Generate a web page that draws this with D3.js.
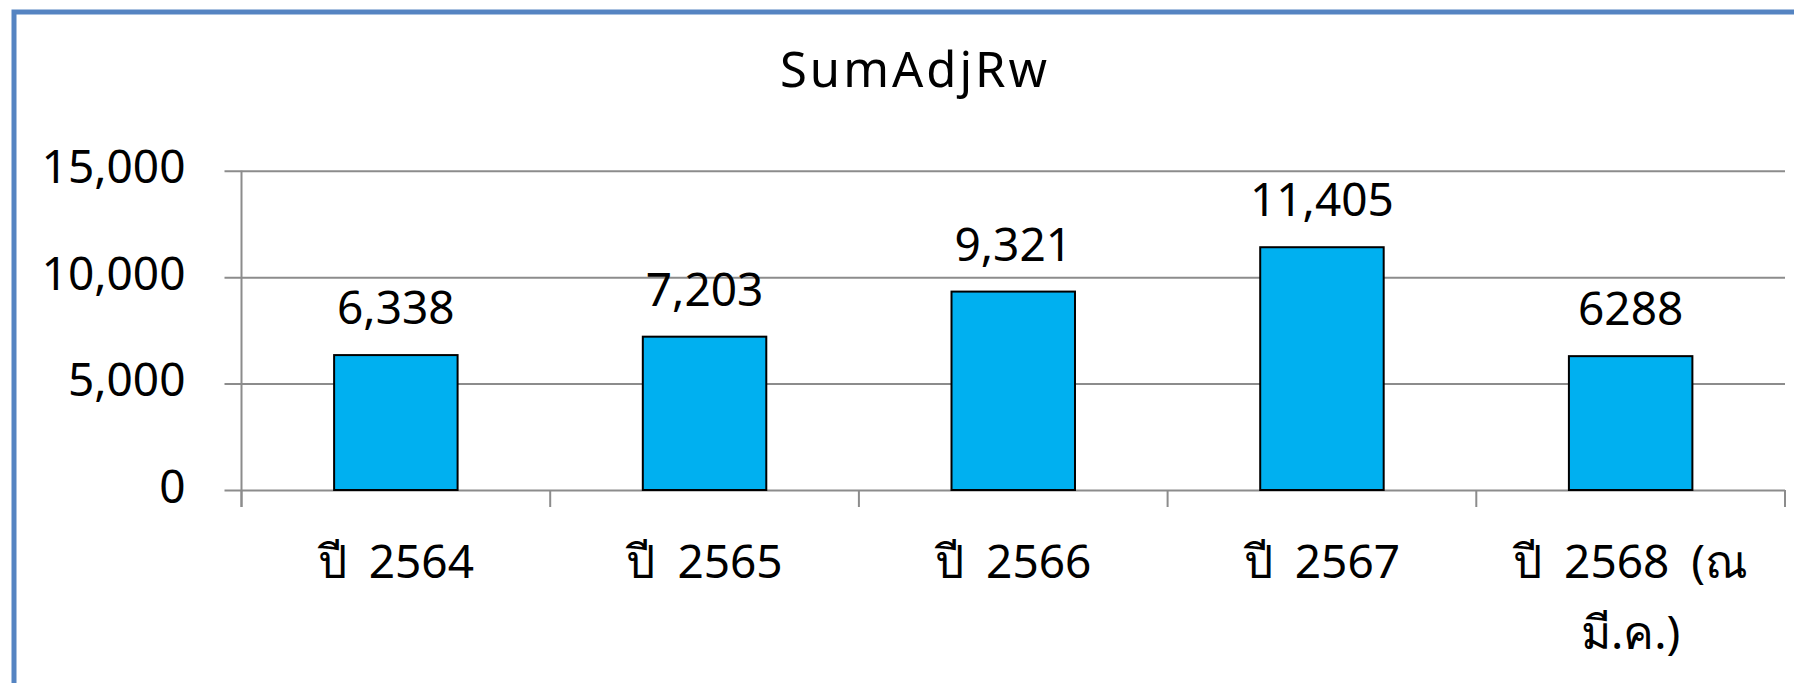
<!DOCTYPE html>
<html>
<head>
<meta charset="utf-8">
<script src="https://cdn.jsdelivr.net/npm/d3@7"></script>
<style>
  body { margin: 0; background: #fff; }
  svg text { font-family: "Noto Sans", "Open Sans", sans-serif; fill: #000; }
</style>
</head>
<body>
<script>
// chart data
var years = ["ปี 2564", "ปี 2565", "ปี 2566", "ปี 2567", "ปี 2568 (ณ มี.ค.)"];
var sumAdjRw = [6338, 7203, 9321, 11405, 6288];
var valueLabels = ["6,338", "7,203", "9,321", "11,405", "6288"];
var yTicks = [0, 5000, 10000, 15000];

var w = 1794, h = 683;
// plot area edges (top is reserved on window, so use other names)
var plotL = 241.5, plotR = 1785, plotT = 170.7, plotB = 490;
var fs = 46;

var svg = d3.select("body").append("svg")
    .attr("width", w)
    .attr("height", h);

// outer frame (only top/left visible)
svg.append("rect")
    .attr("x", 14)
    .attr("y", 12)
    .attr("width", w + 40)
    .attr("height", h + 40)
    .attr("fill", "none")
    .attr("stroke", "#5584C2")
    .attr("stroke-width", 5);

var x = d3.scaleBand()
    .domain(years)
    .range([plotL, plotR])
    .paddingInner(0.6)
    .paddingOuter(0.3);

var y = d3.scaleLinear()
    .domain([0, 15000])
    .range([plotB, plotT]);

// gridlines + y labels
var yAxis = d3.axisLeft(y)
    .tickValues(yTicks)
    .tickSize(-(plotR - plotL))
    .tickPadding(0)
    .tickFormat(d3.format(","));

var gy = svg.append("g")
    .attr("transform", "translate(" + plotL + ",0)")
    .call(yAxis);
gy.select(".domain").remove();
gy.selectAll(".tick line")
    .attr("x1", -17)
    .attr("stroke", "#8c8c8c")
    .attr("stroke-width", 2);
gy.selectAll(".tick text")
    .attr("x", -56)
    .attr("dy", 12)
    .attr("font-size", fs);

// vertical axis line
svg.append("line")
    .attr("x1", plotL).attr("x2", plotL)
    .attr("y1", plotT).attr("y2", plotB + 17)
    .attr("stroke", "#8c8c8c")
    .attr("stroke-width", 2);

// category tick marks at band boundaries
var step = x.step();
var bounds = d3.range(years.length + 1).map(function (i) { return plotL + i * step; });
svg.selectAll(".xtick")
    .data(bounds)
    .enter()
    .append("line")
    .attr("class", "xtick")
    .attr("x1", function (d) { return d; })
    .attr("x2", function (d) { return d; })
    .attr("y1", plotB)
    .attr("y2", plotB + 17)
    .attr("stroke", "#8c8c8c")
    .attr("stroke-width", 2);

// bars
svg.selectAll(".bar")
    .data(sumAdjRw)
    .enter()
    .append("rect")
    .attr("class", "bar")
    .attr("x", function (d, i) { return x(years[i]); })
    .attr("y", function (d) { return y(d); })
    .attr("width", x.bandwidth())
    .attr("height", function (d) { return plotB - y(d); })
    .attr("fill", "#00B0F0")
    .attr("stroke", "#000")
    .attr("stroke-width", 2);

// value labels
svg.selectAll(".val")
    .data(sumAdjRw)
    .enter()
    .append("text")
    .attr("class", "val")
    .attr("x", function (d, i) { return x(years[i]) + x.bandwidth() / 2; })
    .attr("y", function (d) { return y(d) - 31; })
    .attr("text-anchor", "middle")
    .attr("font-size", fs)
    .text(function (d, i) { return valueLabels[i]; });

// category labels (wrap last one like excel does)
svg.selectAll(".cat")
    .data(years)
    .enter()
    .append("text")
    .attr("class", "cat")
    .attr("text-anchor", "middle")
    .attr("font-size", fs)
    .attr("word-spacing", 10)
    .each(function (d) {
        var cx = x(d) + x.bandwidth() / 2;
        var lines = d.length > 10 ? ["ปี 2568 (ณ", "มี.ค.)"] : [d];
        var t = d3.select(this);
        lines.forEach(function (s, j) {
            t.append("tspan")
                .attr("x", cx)
                .attr("y", plotB + 88 + j * 71)
                .text(s);
        });
    });

// title
svg.append("text")
    .attr("x", 915)
    .attr("y", 87)
    .attr("text-anchor", "middle")
    .attr("font-size", 49)
    .attr("letter-spacing", 3)
    .text("SumAdjRw");
</script>
</body>
</html>
